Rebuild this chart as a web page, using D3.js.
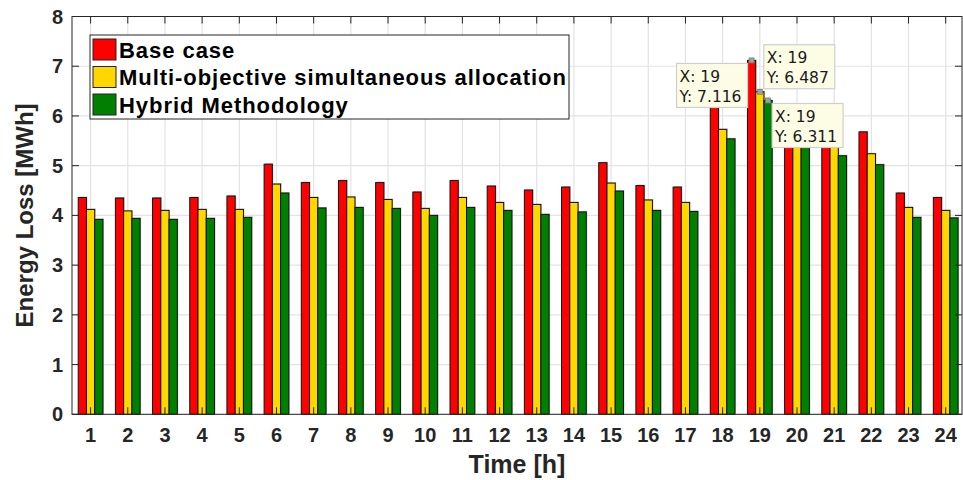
<!DOCTYPE html>
<html>
<head>
<meta charset="utf-8">
<script src="https://cdn.jsdelivr.net/npm/d3@7"></script>
<style>
  body { margin: 0; background: #fff; }
  svg { display: block; font-family: "Liberation Sans", Arial, Helvetica, sans-serif; }
</style>
</head>
<body>
<div id="chart"></div>
<script>
const hours = d3.range(1, 25);
const seriesNames = ["Base case", "Multi-objective simultaneous allocation", "Hybrid Methodology"];
const seriesColors = ["#ff0000", "#ffd700", "#008000"];
const baseCase = [4.36, 4.35, 4.35, 4.36, 4.39, 5.03, 4.66, 4.70, 4.66, 4.47, 4.70, 4.59,
                  4.51, 4.57, 5.06, 4.60, 4.57, 6.28, 7.116, 6.10, 5.85, 5.68, 4.45, 4.36];
const multiObjective = [4.12, 4.09, 4.10, 4.12, 4.12, 4.63, 4.36, 4.37, 4.32, 4.14, 4.36, 4.26,
                        4.22, 4.26, 4.65, 4.31, 4.26, 5.73, 6.487, 5.62, 5.40, 5.24, 4.16, 4.10];
const hybrid = [3.92, 3.94, 3.92, 3.94, 3.96, 4.45, 4.15, 4.16, 4.14, 4.00, 4.16, 4.10,
                4.02, 4.07, 4.49, 4.10, 4.08, 5.54, 6.311, 5.45, 5.20, 5.02, 3.96, 3.95];
const yTicks = [0, 1, 2, 3, 4, 5, 6, 7, 8];
// datatips shown on hour 19
const datatips = [
  { series: 0, hour: 19, value: 7.116, side: "lowerleft" },
  { series: 1, hour: 19, value: 6.487, side: "upperright" },
  { series: 2, hour: 19, value: 6.311, side: "lowerright" }
];

const allSeries = [baseCase, multiObjective, hybrid];
const W = 963, H = 480;

const svg = d3.select("#chart").append("svg")
  .attr("width", W).attr("height", H);

const x = d3.scaleLinear().domain([0.5, 24.5]).range([72, 964.3]);
const y = d3.scaleLinear().domain([0, 8]).range([414.3, 16.5]);
const plotRight = 962;
const step = x(2) - x(1);
const barW = step * 0.222;
const offsets = [-barW, 0, barW];

// grid
const grid = svg.append("g");
grid.selectAll(".gx").data(hours).enter().append("line")
  .attr("x1", d => x(d)).attr("x2", d => x(d))
  .attr("y1", y(0)).attr("y2", y(8))
  .attr("stroke", "#e3e3e3").attr("stroke-width", 1.2);
grid.selectAll(".gy").data(yTicks).enter().append("line")
  .attr("x1", x(0.5)).attr("x2", plotRight)
  .attr("y1", d => y(d)).attr("y2", d => y(d))
  .attr("stroke", "#e3e3e3").attr("stroke-width", 1.2);

// bars
const bars = svg.append("g");
allSeries.forEach((vals, si) => {
  const g = bars.append("g");
  g.selectAll(".shadow").data(vals).enter().append("rect")
    .attr("x", (d, i) => x(hours[i]) + offsets[si] - barW / 2 + 1)
    .attr("y", d => y(d) - 1)
    .attr("width", barW)
    .attr("height", d => y(0) - y(d))
    .attr("fill", "#888").attr("opacity", 0.45);
  g.selectAll(".bar").data(vals).enter().append("rect")
    .attr("x", (d, i) => x(hours[i]) + offsets[si] - barW / 2)
    .attr("y", d => y(d))
    .attr("width", barW)
    .attr("height", d => y(0) - y(d))
    .attr("fill", seriesColors[si])
    .attr("stroke", "#111").attr("stroke-width", 1);
});

// axes box with inward ticks
const axisColor = "#262626";
const axes = svg.append("g");
axes.append("rect")
  .attr("x", x(0.5)).attr("y", y(8))
  .attr("width", plotRight - x(0.5)).attr("height", y(0) - y(8))
  .attr("fill", "none").attr("stroke", axisColor).attr("stroke-width", 1);
const tl = 7;
axes.selectAll(".tb").data(hours).enter().append("line")
  .attr("x1", d => x(d)).attr("x2", d => x(d))
  .attr("y1", y(0)).attr("y2", y(0) - tl)
  .attr("stroke", axisColor);
axes.selectAll(".tt").data(hours).enter().append("line")
  .attr("x1", d => x(d)).attr("x2", d => x(d))
  .attr("y1", y(8)).attr("y2", y(8) + tl)
  .attr("stroke", axisColor);
axes.selectAll(".tlft").data(yTicks).enter().append("line")
  .attr("x1", x(0.5)).attr("x2", x(0.5) + tl)
  .attr("y1", d => y(d)).attr("y2", d => y(d))
  .attr("stroke", axisColor);
axes.selectAll(".trt").data(yTicks).enter().append("line")
  .attr("x1", plotRight).attr("x2", plotRight - tl)
  .attr("y1", d => y(d)).attr("y2", d => y(d))
  .attr("stroke", axisColor);

// tick labels
axes.selectAll(".xl").data(hours).enter().append("text")
  .attr("x", d => x(d)).attr("y", 442)
  .attr("text-anchor", "middle")
  .attr("font-size", 20).attr("font-weight", "bold").attr("fill", axisColor)
  .text(d => d);
axes.selectAll(".yl").data(yTicks).enter().append("text")
  .attr("x", 63).attr("y", d => y(d) + 7)
  .attr("text-anchor", "end")
  .attr("font-size", 20).attr("font-weight", "bold").attr("fill", axisColor)
  .text(d => d);

// axis titles
svg.append("text")
  .attr("x", (x(0.5) + plotRight) / 2).attr("y", 473)
  .attr("text-anchor", "middle")
  .attr("font-size", 25).attr("font-weight", "bold").attr("fill", axisColor)
  .text("Time [h]");
svg.append("text")
  .attr("transform", `translate(33,${(y(0) + y(8)) / 2}) rotate(-90)`)
  .attr("text-anchor", "middle")
  .attr("font-size", 24).attr("font-weight", "bold").attr("fill", axisColor)
  .text("Energy Loss [MWh]");

// legend
const legend = svg.append("g").attr("transform", "translate(90,35)");
legend.append("rect")
  .attr("width", 479).attr("height", 84)
  .attr("fill", "#fff").attr("stroke", axisColor).attr("stroke-width", 1);
seriesNames.forEach((name, i) => {
  const row = legend.append("g").attr("transform", `translate(0,${4 + i * 27.5})`);
  row.append("rect")
    .attr("x", 3).attr("y", 0).attr("width", 23).attr("height", 21)
    .attr("fill", seriesColors[i]).attr("stroke", "#222");
  row.append("text")
    .attr("x", 29).attr("y", 18.5)
    .attr("font-size", 22).attr("font-weight", "bold").attr("fill", "#000")
    .attr("letter-spacing", 0.95)
    .text(name);
});

// datatips
const tips = svg.append("g");
datatips.forEach(t => {
  const px = x(t.hour) + offsets[t.series];
  const py = y(t.value);
  const bw = 71, bh = 44;
  let bx, by;
  if (t.side === "lowerleft") { bx = px - 4 - bw; by = py + 3; }
  else if (t.side === "upperright") { bx = px + 4; by = py - 3 - bh; }
  else { bx = px + 4; by = py + 3; }
  tips.append("rect")
    .attr("x", px - 2.5).attr("y", py - 2.5).attr("width", 5).attr("height", 5)
    .attr("fill", "#a0a0a0").attr("stroke", "#777").attr("stroke-width", 0.8);
  tips.append("rect")
    .attr("x", bx).attr("y", by).attr("width", bw).attr("height", bh)
    .attr("fill", "#fdfde6").attr("stroke", "#cfcfcf").attr("stroke-width", 1.2);
  tips.append("text")
    .attr("x", bx + 3).attr("y", by + 18.5)
    .attr("font-family", "'DejaVu Sans', sans-serif")
    .attr("font-size", 15.5).attr("fill", "#1a1a1a")
    .text(`X: ${t.hour}`);
  tips.append("text")
    .attr("x", bx + 3).attr("y", by + 38.5)
    .attr("font-family", "'DejaVu Sans', sans-serif")
    .attr("font-size", 15.5).attr("fill", "#1a1a1a")
    .text(`Y: ${t.value.toFixed(3)}`);
});
</script>
</body>
</html>
